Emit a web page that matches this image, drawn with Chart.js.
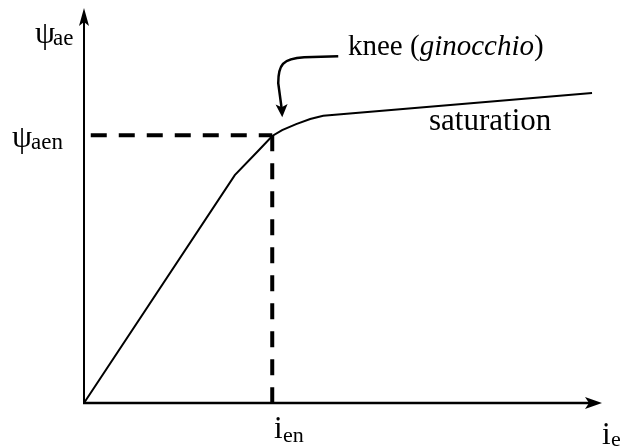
<!DOCTYPE html>
<html>
<head>
<meta charset="utf-8">
<script src="https://cdn.jsdelivr.net/npm/chart.js@4.4.1/dist/chart.umd.min.js"></script>
<style>
  html, body { margin: 0; padding: 0; background: #ffffff; }
  #wrap { width: 620px; height: 446px; }
</style>
</head>
<body>
<div id="wrap"><canvas id="chart" width="620" height="446"></canvas></div>
<script>
// Magnetization curve of the excitation circuit: flux linkage vs. field current
const fieldCurrent = [0, 2.90, 3.37, 3.62, 3.81, 4.08, 4.35, 4.60, 9.77];
const fluxLinkage  = [0, 5.77, 6.41, 6.76, 6.91, 7.06, 7.19, 7.27, 7.85];

// Rated operating point (the knee)
const ratedCurrent = 3.62;
const ratedFlux    = 6.78;
const dashStart    = 0.13;

// Axis and annotation texts
const yAxisName   = ['ψ', 'ae'];
const yTickLabel  = ['ψ', 'aen'];
const xAxisName   = ['i', 'e'];
const xTickLabel  = ['i', 'en'];
const kneeLabel   = ['knee (', 'ginocchio', ')'];
const satLabel    = 'saturation';

const curvePoints = fieldCurrent.map((x, k) => ({ x, y: fluxLinkage[k] }));

const SERIF = '"Liberation Serif", "Times New Roman", serif';

function drawParts(ctx, x, parts) {
  // parts: {text, size, italic, base, x?}
  let cx = x;
  parts.forEach(p => {
    if (p.x !== undefined) cx = p.x;
    ctx.font = (p.italic ? 'italic ' : '') + p.size + 'px ' + SERIF;
    ctx.fillText(p.text, cx, p.base);
    cx += ctx.measureText(p.text).width;
  });
  return cx;
}

function arrowHead(ctx, tipX, tipY, dirX, dirY, len, half, notch) {
  const px = -dirY, py = dirX;
  const bx = tipX - dirX * len, by = tipY - dirY * len;
  ctx.beginPath();
  ctx.moveTo(tipX, tipY);
  ctx.lineTo(bx + px * half, by + py * half);
  ctx.lineTo(tipX - dirX * (len - notch), tipY - dirY * (len - notch));
  ctx.lineTo(bx - px * half, by - py * half);
  ctx.closePath();
  ctx.fill();
}

const decorations = {
  id: 'decorations',
  afterDatasetsDraw(chart) {
    const { ctx, chartArea, scales } = chart;
    const x0 = scales.x.getPixelForValue(0);
    const y0 = scales.y.getPixelForValue(0);
    ctx.save();
    ctx.fillStyle = '#000';
    ctx.strokeStyle = '#000';
    ctx.lineCap = 'butt';

    // y axis with arrow
    ctx.lineWidth = 2;
    ctx.beginPath();
    ctx.moveTo(x0, y0 + 1);
    ctx.lineTo(x0, chartArea.top + 10);
    ctx.stroke();
    arrowHead(ctx, x0, chartArea.top, 0, -1, 18, 5, 4);

    // x axis with arrow
    const xTip = 602;
    ctx.lineWidth = 2.4;
    ctx.beginPath();
    ctx.moveTo(x0 - 1, y0);
    ctx.lineTo(xTip - 10, y0);
    ctx.stroke();
    arrowHead(ctx, xTip, y0, 1, 0, 17, 6, 4);

    // knee annotation arrow
    const kx = scales.x.getPixelForValue(ratedCurrent);
    const ky = scales.y.getPixelForValue(ratedFlux);
    const tipX = kx + 10, tipY = ky - 18;
    ctx.lineWidth = 2.5;
    ctx.beginPath();
    ctx.moveTo(kx + 66, ky - 79);
    ctx.lineTo(kx + 32, ky - 78);
    ctx.bezierCurveTo(kx + 10, ky - 77, kx + 6, ky - 70, kx + 6, ky - 52);
    ctx.lineTo(tipX - 0.5, tipY - 8);
    ctx.stroke();
    arrowHead(ctx, tipX, tipY, 0.05, 1, 13, 6, 3);

    // texts
    ctx.textBaseline = 'alphabetic';
    drawParts(ctx, 35, [
      { text: yAxisName[0], size: 32, base: 43 },
      { text: yAxisName[1], size: 23, base: 45, x: 53 }
    ]);
    drawParts(ctx, 12, [
      { text: yTickLabel[0], size: 32, base: 147 },
      { text: yTickLabel[1], size: 23, base: 149, x: 31 }
    ]);
    drawParts(ctx, 274, [
      { text: xTickLabel[0], size: 31, base: 438 },
      { text: xTickLabel[1], size: 22, base: 442, x: 283 }
    ]);
    drawParts(ctx, 602, [
      { text: xAxisName[0], size: 31, base: 444 },
      { text: xAxisName[1], size: 22, base: 446, x: 611 }
    ]);

    drawParts(ctx, 348, [
      { text: kneeLabel[0], size: 29, base: 55 },
      { text: kneeLabel[1], size: 29, italic: true, base: 55 },
      { text: kneeLabel[2], size: 29, base: 55 }
    ]);

    ctx.font = '31px ' + SERIF;
    ctx.fillText(satLabel, 429, 130);

    ctx.restore();
  }
};

new Chart(document.getElementById('chart'), {
  type: 'scatter',
  data: {
    datasets: [
      {
        label: 'ψae(ie)',
        data: curvePoints,
        showLine: true,
        borderColor: '#000',
        borderWidth: 2,
        pointRadius: 0,
        tension: 0,
        clip: false
      },
      {
        label: 'rated flux',
        data: [{ x: dashStart, y: ratedFlux }, { x: ratedCurrent, y: ratedFlux }],
        showLine: true,
        borderColor: '#000',
        borderWidth: 4,
        borderDash: [16, 12],
        borderCapStyle: 'butt',
        pointRadius: 0,
        clip: false
      },
      {
        label: 'rated current',
        data: [{ x: ratedCurrent, y: ratedFlux }, { x: ratedCurrent, y: 0 }],
        showLine: true,
        borderColor: '#000',
        borderWidth: 4,
        borderDash: [16, 12],
        borderCapStyle: 'butt',
        pointRadius: 0,
        clip: false
      }
    ]
  },
  options: {
    responsive: false,
    animation: false,
    devicePixelRatio: 1,
    layout: { padding: { left: 84, right: 16, top: 8, bottom: 43 } },
    plugins: { legend: { display: false }, tooltip: { enabled: false } },
    scales: {
      x: { type: 'linear', min: 0, max: 10, display: false },
      y: { type: 'linear', min: 0, max: 10, display: false }
    }
  },
  plugins: [decorations]
});
</script>
</body>
</html>
